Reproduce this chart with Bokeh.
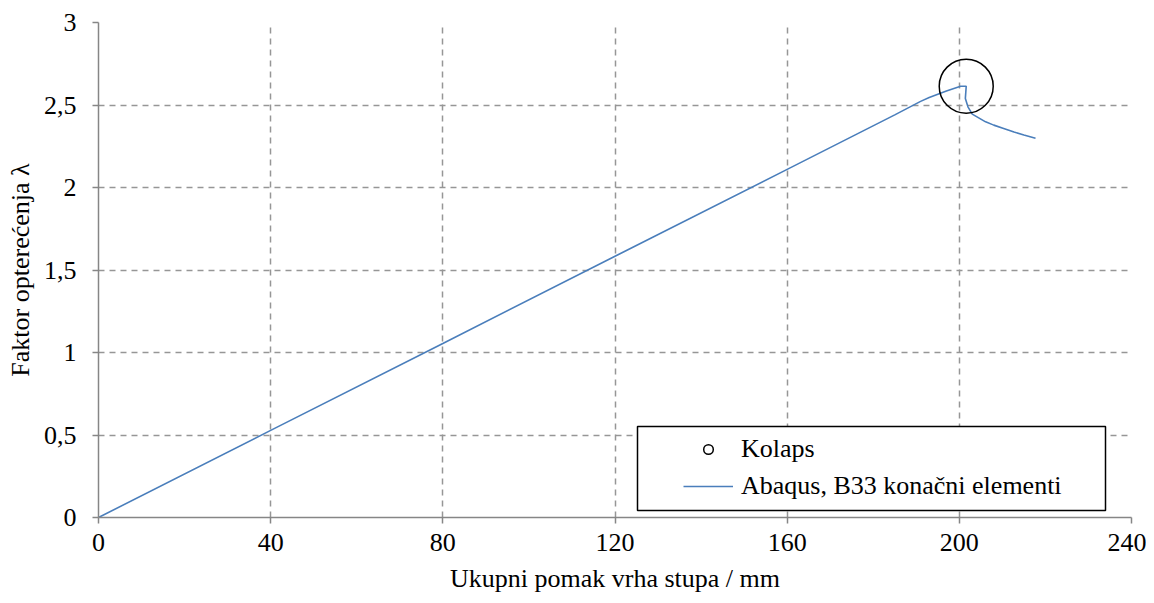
from bokeh.plotting import figure
from bokeh.models import Legend, LegendItem, CustomJSTickFormatter, FixedTicker, Range1d, BoxAnnotation
from bokeh.embed import file_html
from bokeh.resources import INLINE

# data
disp = [0, 40, 80, 120, 160, 185, 191, 193, 197, 200.3, 201.6, 201.4, 202.0, 203.0, 206.1, 208.0,
        210.3, 212.7, 215.0, 217.7]
lam = [0, 0.528, 1.055, 1.583, 2.110, 2.440, 2.522, 2.546, 2.585, 2.614, 2.614, 2.540, 2.489, 2.445,
       2.398, 2.378, 2.358, 2.336, 2.318, 2.298]
collapse_x = [201.6]
collapse_y = [2.614]
x_ticks = [0, 40, 80, 120, 160, 200, 240]
y_ticks = [0, 0.5, 1, 1.5, 2, 2.5, 3]

FONT = "Liberation Serif"
GREY = "#868686"
FS = "26px"

p = figure(width=1146, height=595, output_backend="svg", toolbar_location=None,
           x_range=Range1d(0, 240), y_range=Range1d(0, 3),
           min_border_left=98, min_border_top=22, min_border_right=15, min_border_bottom=76)
p.outline_line_color = None

line_r = p.line(disp, lam, line_color="#4a7ebb", line_width=1.6)
circ_r = p.scatter(collapse_x, collapse_y, marker="circle", size=54, fill_color=None,
                   line_color="black", line_width=1.5)
# legend proxy for the circle at smaller size
proxy = p.scatter([float("nan")], [float("nan")], marker="circle", size=16, fill_color=None,
                  line_color="black", line_width=1.5)

fmt = CustomJSTickFormatter(code="return tick.toString().replace('.', ',');")
for ax, ticks in ((p.xaxis[0], x_ticks), (p.yaxis[0], y_ticks)):
    ax.ticker = FixedTicker(ticks=ticks)
    ax.formatter = fmt
    ax.axis_line_color = GREY
    ax.axis_line_width = 1.5
    ax.major_tick_line_color = GREY
    ax.major_tick_line_width = 1.5
    ax.minor_tick_line_color = None
    ax.major_tick_in = 0
    ax.major_tick_out = 6
    ax.major_label_text_font = FONT
    ax.major_label_text_font_size = FS
    ax.major_label_text_color = "black"
    ax.axis_label_text_font = FONT
    ax.axis_label_text_font_size = FS
    ax.axis_label_text_font_style = "normal"
    ax.axis_label_text_color = "black"

p.xaxis[0].axis_label = "Ukupni pomak vrha stupa / mm"
p.yaxis[0].axis_label = "Faktor opterećenja λ"
p.xaxis[0].major_label_standoff = 10
p.xaxis[0].axis_label_standoff = 10
p.yaxis[0].major_label_standoff = 16
p.yaxis[0].axis_label_standoff = 6

for g in (p.xgrid[0], p.ygrid[0]):
    g.grid_line_color = "#969696"
    g.grid_line_dash = "6 5"
    g.grid_line_width = 1.5
p.xgrid[0].ticker = FixedTicker(ticks=x_ticks[1:])
p.ygrid[0].ticker = FixedTicker(ticks=y_ticks[1:])

# legend frame (screen units relative to the plot frame, y upward from the bottom)
box = BoxAnnotation(left=539, right=1007, top=91, bottom=7,
                    left_units="screen", right_units="screen",
                    top_units="screen", bottom_units="screen",
                    fill_color="white", fill_alpha=1,
                    line_color="black", line_width=1.5, line_alpha=1)
p.add_layout(box)

legend = Legend(items=[LegendItem(label="Kolaps", renderers=[proxy]),
                       LegendItem(label="Abaqus, B33 konačni elementi", renderers=[line_r])],
                location=(585, 16), orientation="vertical",
                border_line_color=None, background_fill_alpha=0,
                label_text_font=FONT, label_text_font_size=FS, label_text_color="black",
                glyph_width=50, glyph_height=24, label_standoff=8,
                label_width=330, label_height=30, spacing=7, padding=0, margin=0)
p.add_layout(legend)

open("out.html", "w").write(file_html(p, INLINE))
